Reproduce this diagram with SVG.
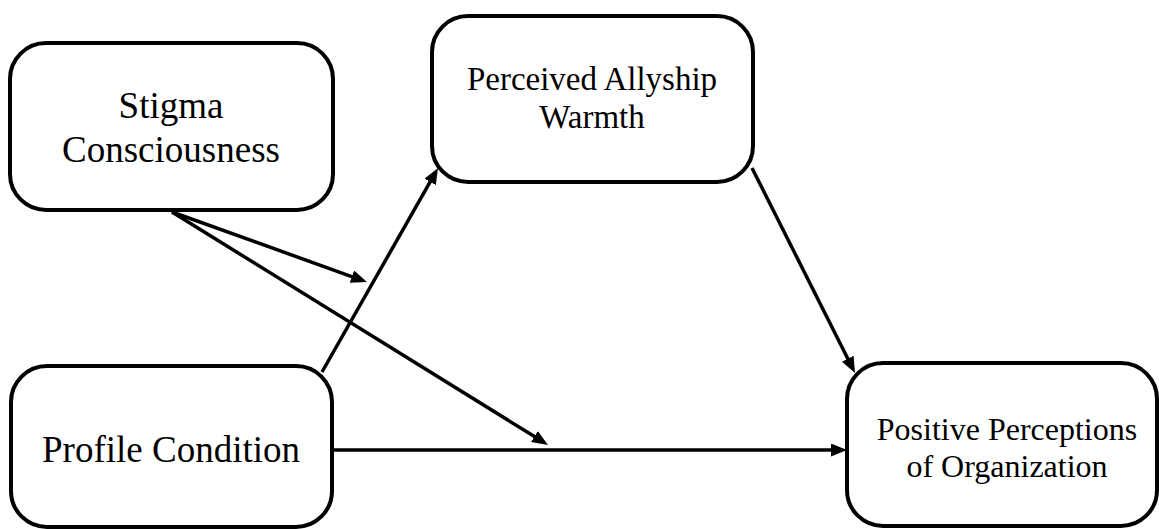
<svg xmlns="http://www.w3.org/2000/svg" width="1159" height="529" viewBox="0 0 1159 529">
<style>
.box{fill:#fff;stroke:#000;stroke-width:4}
.lbl{font-family:"Liberation Serif","Times New Roman",serif;fill:#000;text-anchor:middle}
.edge{stroke:#000;stroke-width:3.5;fill:none;marker-end:url(#ah)}
</style>
<defs>
<marker id="ah" markerUnits="userSpaceOnUse" markerWidth="16" markerHeight="14" refX="2" refY="6.5" orient="auto">
<path d="M0,0 L16,6.5 L0,13 z" fill="#000"/>
</marker>
</defs>
<rect width="1159" height="529" fill="#fff"/>
<g id="connectors">
<path class="edge" d="M322,372 L431.1,180.2"/>
<path class="edge" d="M172,212 L353.8,277.3"/>
<path class="edge" d="M172,212 L536.1,437.6"/>
<path class="edge" d="M332,450 L833,450"/>
<path class="edge" d="M752,168 L848.7,360.5"/>
</g>
<g id="stigma">
<rect class="box" x="10" y="43" width="323" height="167" rx="36"/>
<text class="lbl" x="171" y="118" font-size="37">Stigma</text>
<text class="lbl" x="171" y="162" font-size="37">Consciousness</text>
</g>
<g id="warmth">
<rect class="box" x="432" y="16" width="321" height="166" rx="36"/>
<text class="lbl" x="592" y="90" font-size="33">Perceived Allyship</text>
<text class="lbl" x="592" y="128" font-size="33">Warmth</text>
</g>
<g id="profile">
<rect class="box" x="11" y="366" width="321" height="161" rx="36"/>
<text class="lbl" x="171" y="462" font-size="37">Profile Condition</text>
</g>
<g id="positive">
<rect class="box" x="847" y="363" width="310" height="163" rx="36"/>
<text class="lbl" x="1007" y="440" font-size="32">Positive Perceptions</text>
<text class="lbl" x="1007" y="477" font-size="32">of Organization</text>
</g>
</svg>
